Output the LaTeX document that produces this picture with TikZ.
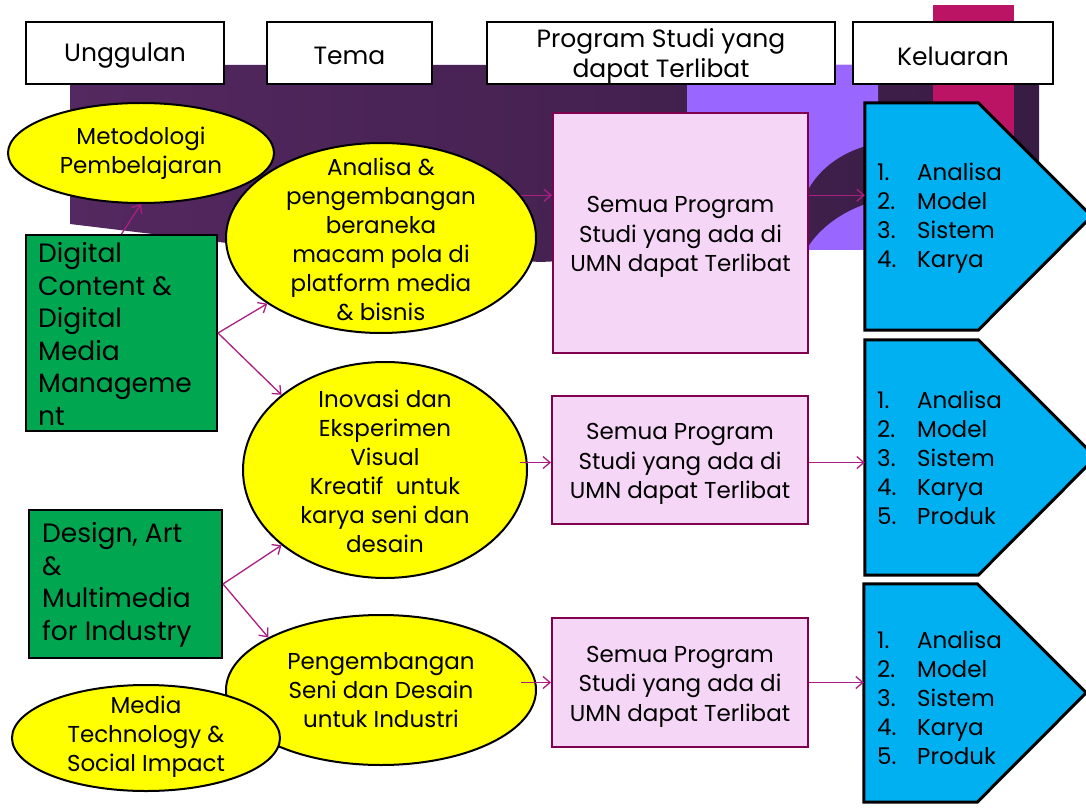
\documentclass[tikz,border=0pt]{standalone}
\usepackage{fontspec}
\setmainfont{Poppins}
\usetikzlibrary{arrows.meta,shapes.geometric}
\definecolor{dpurpL}{RGB}{84,40,96}
\definecolor{dpurpR}{RGB}{56,28,68}
\definecolor{violetbg}{RGB}{153,102,255}
\definecolor{magbar}{RGB}{188,20,100}
\definecolor{ellyellow}{RGB}{255,255,0}
\definecolor{boxgreen}{RGB}{0,166,80}
\definecolor{pinkfill}{RGB}{246,214,246}
\definecolor{pinkline}{RGB}{128,0,80}
\definecolor{outblue}{RGB}{0,176,240}
\definecolor{arrowcol}{RGB}{170,30,130}
\begin{document}
\begin{tikzpicture}[x=1pt,y=-1pt,
  hdr/.style={draw=black,line width=2.2pt,fill=white,inner sep=0pt},
  hdrtext/.style={inner sep=0pt,font=\fontsize{25}{30}\selectfont,align=center,yshift=-3pt},
  ell/.style={ellipse,draw=black,line width=2pt,fill=ellyellow,inner sep=0pt},
  elltext/.style={align=center,inner sep=0pt,font=\fontsize{23}{29}\selectfont},
  grn/.style={draw=black,line width=2pt,fill=boxgreen,inner sep=0pt},
  grntext/.style={align=left,inner sep=0pt,anchor=west,font=\fontsize{26.5}{32.5}\selectfont},
  pnk/.style={draw=pinkline,line width=2pt,fill=pinkfill,inner sep=0pt},
  pnktext/.style={inner sep=0pt,align=center,font=\fontsize{23}{29.5}\selectfont,yshift=-4pt},
  outbody/.style={inner sep=0pt,draw=none},
  outp/.style={draw=black,line width=3pt,fill=outblue,line join=miter},
  outtext/.style={align=left,inner sep=0pt,anchor=west,font=\fontsize{23}{29}\selectfont},
  conn/.style={draw=arrowcol,line width=1.3pt,-{Straight Barb[length=7pt,width=12pt]}},
]
\useasboundingbox (0,0) rectangle (1086,810);
\clip (0,0) rectangle (1086,810);
\fill[white] (0,0) rectangle (1086,810);
% background decoration
\shade[left color=dpurpL,right color=dpurpR] (70,65) -- (1039,65) -- (1039,250) -- (808,250) -- (540,262) -- (227,243) -- (70,224) -- cycle;
\fill[violetbg] (687,65) -- (878,65) -- (878,143) .. controls (842,150) and (815,170) .. (803,200) -- (687,200) -- cycle;
\fill[violetbg] (866,204) .. controls (842,212) and (820,228) .. (808,247) -- (808,250) -- (866,250) -- cycle;
\fill[magbar] (933,5) rectangle (1014,165);
% headers
\node[hdr,minimum width=198pt,minimum height=62pt] (h1) at (125,53) {};
\node[hdrtext] (h1t) at (h1) {Unggulan};
\node[hdr,minimum width=165pt,minimum height=62pt] (h2) at (349.5,53) {};
\node[hdrtext] (h2t) at (h2) {Tema};
\node[hdr,minimum width=348pt,minimum height=62pt] (h3) at (661,53) {};
\node[hdrtext] (h3t) at (h3) {Program Studi yang\\dapat Terlibat};
\node[hdr,minimum width=200pt,minimum height=62pt] (h4) at (953,53) {};
\node[hdrtext] (h4t) at (h4) {Keluaran};
% green boxes
\node[grn,minimum width=191pt,minimum height=196pt] (digital) at (121.5,333) {};
\node[grntext] (digitalt) at (38,334) {Digital\\Content \&\\Digital\\Media\\Manageme\\nt};
\node[grn,minimum width=193pt,minimum height=148pt] (design) at (125.5,584) {};
\node[grntext] (designt) at (42,585) {Design, Art\\\&\\Multimedia\\for Industry};
% ellipses
\node[ell,minimum width=266pt,minimum height=100pt] (metod) at (141,153) {};
\node[elltext] (metodt) at (metod) {Metodologi\\Pembelajaran};
\node[ell,minimum width=310pt,minimum height=190pt] (analisa) at (381,238) {};
\node[elltext] (analisat) at (381,239) {Analisa \&\\pengembangan\\beraneka\\macam pola di\\platform media\\\& bisnis};
\node[ell,minimum width=284pt,minimum height=216pt] (inovasi) at (385,470) {};
\node[elltext] (inovasit) at (385,471) {Inovasi dan\\Eksperimen\\Visual\\Kreatif\ \ untuk\\karya seni dan\\desain};
\node[ell,minimum width=310pt,minimum height=150pt] (peng) at (381,690) {};
\node[elltext] (pengt) at (381,690) {Pengembangan\\Seni dan Desain\\untuk Industri};
\node[ell,minimum width=268pt,minimum height=106pt] (media) at (146,738) {};
\node[elltext] (mediat) at (146,737) {Media\\Technology \&\\Social Impact};
% pink boxes
\node[pnk,minimum width=255pt,minimum height=240pt] (pink1) at (680.5,233) {};
\node[pnktext] (pink1t) at (pink1) {Semua Program\\Studi yang ada di\\UMN dapat Terlibat};
\node[pnk,minimum width=256pt,minimum height=128pt] (pink2) at (680,460) {};
\node[pnktext] (pink2t) at (pink2) {Semua Program\\Studi yang ada di\\UMN dapat Terlibat};
\node[pnk,minimum width=256pt,minimum height=129pt] (pink3) at (680,682.5) {};
\node[pnktext] (pink3t) at (pink3) {Semua Program\\Studi yang ada di\\UMN dapat Terlibat};
% outputs (pentagon arrows)
\node[outbody,minimum width=113pt,minimum height=227pt] (out1) at (921.5,216.5) {};
\draw[outp] (out1.north west) -- (out1.north east) -- ++(113.5,113.5) -- (out1.south east) -- (out1.south west) -- cycle;
\node[outtext] (out1t) at (877,218.5) {\makebox[40pt][l]{1.}Analisa\\\makebox[40pt][l]{2.}Model\\\makebox[40pt][l]{3.}Sistem\\\makebox[40pt][l]{4.}Karya};
\node[outbody,minimum width=113pt,minimum height=235pt] (out2) at (921.5,457.5) {};
\draw[outp] (out2.north west) -- (out2.north east) -- ++(117.5,117.5) -- (out2.south east) -- (out2.south west) -- cycle;
\node[outtext] (out2t) at (877,458) {\makebox[40pt][l]{1.}Analisa\\\makebox[40pt][l]{2.}Model\\\makebox[40pt][l]{3.}Sistem\\\makebox[40pt][l]{4.}Karya\\\makebox[40pt][l]{5.}Produk};
\node[outbody,minimum width=113pt,minimum height=218pt] (out3) at (920.5,693) {};
\draw[outp] (out3.north west) -- (out3.north east) -- ++(109,109) -- (out3.south east) -- (out3.south west) -- cycle;
\node[outtext] (out3t) at (877,698) {\makebox[40pt][l]{1.}Analisa\\\makebox[40pt][l]{2.}Model\\\makebox[40pt][l]{3.}Sistem\\\makebox[40pt][l]{4.}Karya\\\makebox[40pt][l]{5.}Produk};
% connectors
\draw[conn] (digital.north) -- (metod.south);
\draw[conn] (digital.east) -- (analisa.210);
\draw[conn] (digital.east) -- (inovasi.144);
\draw[conn] (design.east) -- (inovasi.216);
\draw[conn] (design.east) -- (peng.155);
\draw[conn] (analisa.17) -- (pink1.west |- analisa.17);
\draw[conn] (pink1.east |- analisa.17) -- (out1.west |- analisa.17);
\draw[conn] ([xshift=-8pt]inovasi.3) -- (pink2.west |- inovasi.3);
\draw[conn] (pink2.east |- inovasi.3) -- (out2.west |- inovasi.3);
\draw[conn] ([xshift=-16pt]peng.east |- pink3.west) -- (pink3.west);
\draw[conn] (pink3.east) -- (out3.west |- pink3.east);
\end{tikzpicture}
\end{document}
